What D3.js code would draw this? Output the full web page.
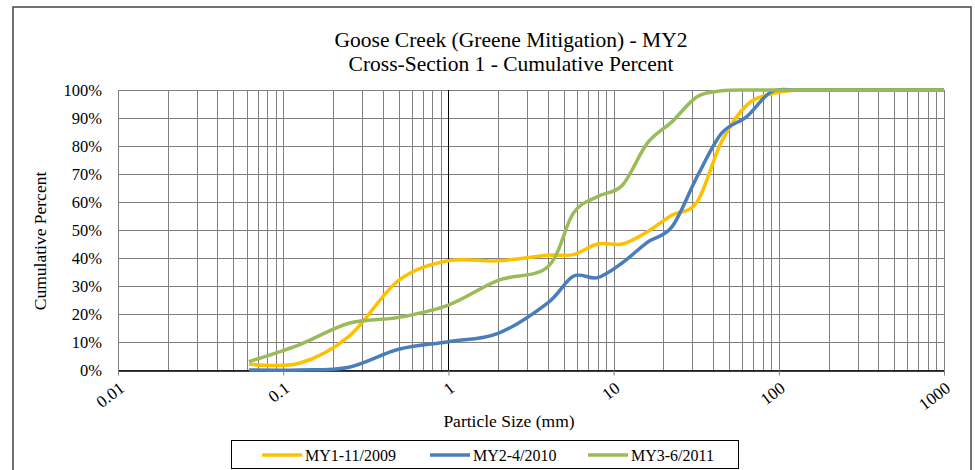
<!DOCTYPE html>
<html>
<head>
<meta charset="utf-8">
<script src="https://cdn.jsdelivr.net/npm/d3@7"></script>
<style>
  body { margin: 0; background: #fff; }
  svg { display: block; font-family: "Liberation Serif", "Times New Roman", serif; }
</style>
</head>
<body>
<svg id="chart" width="975" height="470"></svg>
<script>
// sieve sizes (mm)
var sizes = [0.062, 0.125, 0.25, 0.5, 1, 2, 4, 5.7, 8, 11.3, 16, 22.6, 32, 45, 64, 90, 128, 180, 256, 362, 512, 1024];

// cumulative percent per survey
var my1 = [2.1, 2.4, 12, 32, 39, 39, 41, 41.2, 45, 45, 49.4, 55.4, 60, 81.5, 94.6, 98.6, 100, 100, 100, 100, 100, 100];
var my2 = [0, 0, 1, 7.4, 10.1, 13.1, 24, 33.5, 33, 38.3, 45.6, 51.2, 69, 84.5, 90.5, 99.4, 100, 100, 100, 100, 100, 100];
var my3 = [3, 9, 16.7, 18.8, 23.2, 32, 36.9, 56, 62, 66, 81, 88.7, 97.6, 99.7, 100, 100, 100, 100, 100, 100, 100, 100];

var seriesNames = ["MY1-11/2009", "MY2-4/2010", "MY3-6/2011"];
var seriesColors = ["#FFC000", "#4A7EBB", "#9BBB59"];
var xTicks = [0.01, 0.1, 1, 10, 100, 1000];
var yTicks = [0, 10, 20, 30, 40, 50, 60, 70, 80, 90, 100];

function draw_chart()
{
    var svg = d3.select("svg#chart");
    var margin = {left: 118, right: 31, top: 90, bottom: 100};
    var width = 975 - margin.left - margin.right,
        height = 470 - margin.top - margin.bottom;

    // outer frame
    svg.append("rect")
        .attr("x", 13).attr("y", 7)
        .attr("width", 958).attr("height", 470)
        .attr("fill", "none")
        .attr("stroke", "#444")
        .attr("stroke-width", 1.5);

    // titles
    svg.append("text")
        .attr("x", 511).attr("y", 47)
        .attr("text-anchor", "middle")
        .attr("font-size", "21.5px")
        .text("Goose Creek (Greene Mitigation) - MY2");
    svg.append("text")
        .attr("x", 511).attr("y", 71)
        .attr("text-anchor", "middle")
        .attr("font-size", "21.5px")
        .text("Cross-Section 1 - Cumulative Percent");

    var g = svg.append("g")
        .attr("transform", "translate(" + margin.left + "," + margin.top + ")");

    var x = d3.scaleLog().domain([0.01, 1000]).range([0, width]);
    var y = d3.scaleLinear().domain([0, 100]).range([height, 0]);

    // minor/major vertical grid
    var vgrid = [];
    for (var e = -2; e < 3; e++) {
        for (var m = 1; m < 10; m++) vgrid.push(m * Math.pow(10, e));
    }
    vgrid.push(1000);
    g.append("g").selectAll("line")
        .data(vgrid)
        .enter()
        .append("line")
        .attr("x1", function(d) { return Math.round(x(d)) + 0.5; })
        .attr("x2", function(d) { return Math.round(x(d)) + 0.5; })
        .attr("y1", 0).attr("y2", height)
        .attr("stroke", "#7f7f7f")
        .attr("stroke-width", 1);

    // horizontal grid
    g.append("g").selectAll("line")
        .data(yTicks)
        .enter()
        .append("line")
        .attr("x1", 0).attr("x2", width)
        .attr("y1", function(d) { return Math.round(y(d)) + 0.5; })
        .attr("y2", function(d) { return Math.round(y(d)) + 0.5; })
        .attr("stroke", "#7f7f7f")
        .attr("stroke-width", 1);

    // black line at 1 mm
    g.append("line")
        .attr("x1", Math.round(x(1)) + 0.5).attr("x2", Math.round(x(1)) + 0.5)
        .attr("y1", 0).attr("y2", height)
        .attr("stroke", "#000");

    // x axis
    var xAxis = g.append("g")
        .attr("transform", "translate(0," + (Math.round(height) + 0.5) + ")")
        .call(d3.axisBottom(x).tickValues(xTicks).tickFormat(d3.format("")).tickSizeInner(5).tickSizeOuter(0));
    xAxis.select(".domain").attr("stroke", "#000").attr("stroke-width", 1.5);
    xAxis.selectAll(".tick line").attr("stroke", "#7f7f7f");
    xAxis.selectAll("text")
        .attr("font-family", "Liberation Serif, serif")
        .attr("font-size", "17px")
        .attr("fill", "#000")
        .attr("x", 0).attr("y", 0).attr("dy", 0)
        .attr("transform", "translate(7,20)rotate(-37)")
        .style("text-anchor", "end");

    // y axis labels
    g.append("g").selectAll("text")
        .data(yTicks)
        .enter()
        .append("text")
        .attr("x", -16)
        .attr("y", function(d) { return y(d); })
        .attr("dy", "0.35em")
        .attr("text-anchor", "end")
        .attr("font-size", "16.5px")
        .text(function(d) { return d + "%"; });

    // axis titles
    svg.append("text")
        .attr("transform", "translate(46,241)rotate(-90)")
        .attr("text-anchor", "middle")
        .attr("font-size", "17.5px")
        .text("Cumulative Percent");
    svg.append("text")
        .attr("x", 509).attr("y", 427)
        .attr("text-anchor", "middle")
        .attr("font-size", "17.5px")
        .text("Particle Size (mm)");

    // lines
    g.append("clipPath").attr("id", "clip")
        .append("rect").attr("x", 0).attr("y", -5).attr("width", width).attr("height", height + 10);

    var line = d3.line()
        .x(function(d) { return x(d[0]); })
        .y(function(d) { return y(d[1]); })
        .curve(d3.curveCatmullRom.alpha(0));

    var data = [my1, my2, my3].map(function(vals) {
        return vals.map(function(v, i) { return [sizes[i], v]; });
    });

    g.append("g").attr("clip-path", "url(#clip)")
        .selectAll("path")
        .data(data)
        .enter()
        .append("path")
        .attr("d", line)
        .attr("fill", "none")
        .attr("stroke", function(d, i) { return seriesColors[i]; })
        .attr("stroke-width", 3.5)
        .attr("stroke-linejoin", "round");

    // legend
    var legend = svg.append("g");
    legend.append("rect")
        .attr("x", 231.5).attr("y", 440.5)
        .attr("width", 507).attr("height", 28)
        .attr("fill", "#fff")
        .attr("stroke", "#000")
        .attr("stroke-width", 1);
    var lx = [262, 430, 588];
    var items = legend.selectAll("g.item")
        .data(seriesNames)
        .enter()
        .append("g")
        .attr("class", "item")
        .attr("transform", function(d, i) { return "translate(" + lx[i] + ",455)"; });
    items.append("line")
        .attr("x1", 0).attr("x2", 40)
        .attr("stroke", function(d, i) { return seriesColors[i]; })
        .attr("stroke-width", 3.5);
    items.append("text")
        .attr("x", 43)
        .attr("dy", "0.35em")
        .attr("font-size", "16px")
        .text(function(d) { return d; });
}

draw_chart();
</script>
</body>
</html>
